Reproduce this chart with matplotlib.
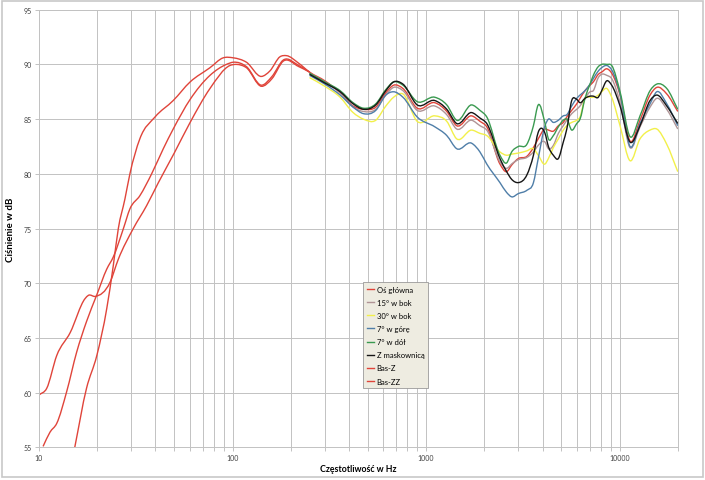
import matplotlib
matplotlib.use("Agg")
import numpy as np
import matplotlib.pyplot as plt
from matplotlib.patches import Rectangle, PathPatch
from matplotlib.path import Path
from matplotlib.lines import Line2D
from matplotlib.ticker import LogLocator, NullFormatter, FixedLocator, FixedFormatter

plt.rcParams['font.family'] = ['Lato', 'DejaVu Sans']

# --- low frequency parts (red curves) ---
os_lo_f = [15.3, 17.6, 19.9, 22.4, 24.2, 25.7, 27.8, 29.5, 33.2, 39.8, 49.4, 60.4, 76.5,
           89.5, 101, 118, 141, 156, 176, 190, 220]
os_lo_db = [55.0, 60.4, 63.4, 67.7, 71.6, 75.0, 77.7, 80.0, 83.2, 85.2, 86.7, 88.4, 89.7,
            90.6, 90.6, 90.2, 88.9, 89.4, 90.7, 90.8, 90.1]

bas_z_f = [10.5, 11.4, 12.35, 13.9, 15.65, 17.6, 19.85, 22.4, 24.2, 27.3, 29.5, 33.2, 38.2,
           43.9, 49.4, 60.4, 76.5, 93, 101, 118, 141, 160, 183, 220, 250]
bas_z_db = [55.1, 56.4, 57.2, 60.1, 63.7, 66.5, 68.9, 71.3, 72.4, 75.0, 76.8, 78.0, 80.0,
            82.3, 84.1, 86.8, 89.0, 90.0, 90.2, 89.8, 88.1, 88.9, 90.4, 89.9, 89.3]

bas_zz_f = [10.0, 10.96, 12.35, 14.5, 17.3, 18.0, 19.5, 23.3, 25.7, 30.7, 36.0, 41.4, 50.0,
            60.4, 76.5, 97, 105, 118, 141, 160, 183, 220, 250]
bas_zz_db = [59.8, 60.4, 63.4, 65.5, 68.6, 68.9, 68.8, 70.1, 72.2, 75.0, 77.1, 79.2, 81.9,
             84.7, 87.8, 89.9, 90.0, 89.7, 88.0, 88.7, 90.3, 89.8, 89.3]

# --- high frequency parts (shared grid) ---
f_hi = [250, 300, 360, 420, 475, 550, 620, 680, 760, 900, 1110, 1280, 1440, 1720, 1900, 2060,
        2410, 2610, 2770, 3000, 3320, 3590, 3800, 4120, 4290, 4550, 4830, 5120, 5340, 5660,
        6010, 6250, 6630, 7040, 7320, 7770, 8090, 8590, 9110, 10060, 11330, 12760, 14380,
        15570, 17540, 20000]
red_hi = [89.3, 88.5, 87.4, 86.2, 85.9, 86.1, 87.4, 88.1, 87.8, 86.0, 86.5, 85.7, 84.4, 85.3,
          84.8, 84.3, 80.9, 80.2, 80.8, 81.4, 81.6, 82.4, 83.2, 84.1, 84.0, 83.9, 84.4, 84.7,
          85.2, 85.8, 86.4, 86.9, 87.6, 88.1, 88.4, 89.1, 89.3, 89.6, 89.2, 87.2, 83.0, 84.9,
          87.2, 87.9, 87.3, 85.7]
deg15 = [89.2, 88.4, 87.4, 86.1, 85.7, 85.9, 87.2, 87.9, 87.6, 85.8, 86.2, 85.4, 84.1, 84.9,
         84.4, 84.0, 81.1, 80.5, 80.9, 81.3, 81.5, 82.0, 82.6, 82.9, 82.3, 82.6, 83.7, 84.4,
         84.9, 85.5, 85.9, 86.2, 86.9, 87.5, 87.6, 88.8, 89.1, 89.0, 88.7, 86.5, 82.4, 84.3,
         86.1, 86.9, 85.9, 84.1]
deg30 = [88.8, 88.0, 87.0, 85.6, 85.0, 84.9, 86.2, 87.0, 87.3, 84.8, 85.3, 84.8, 83.2, 84.0,
         83.7, 83.5, 82.0, 81.7, 81.8, 81.9, 82.1, 82.3, 81.7, 80.9, 81.4, 82.4, 83.2, 84.0,
         84.4, 84.7, 84.9, 85.2, 86.9, 87.0, 87.0, 87.2, 87.5, 87.8, 87.0, 84.4, 81.2, 83.2,
         84.0, 84.1, 82.7, 80.2]
up7 = [89.0, 88.2, 87.2, 86.1, 85.5, 85.8, 87.2, 87.5, 87.0, 85.2, 84.3, 83.5, 82.3, 82.8,
       82.0, 80.9, 79.2, 78.3, 77.9, 78.2, 78.5, 79.2, 81.4, 84.4, 85.0, 84.7, 84.9, 85.3,
       85.4, 86.2, 86.9, 87.2, 87.6, 88.2, 88.7, 89.4, 89.7, 89.9, 89.5, 87.3, 82.5, 84.6,
       86.4, 87.5, 86.4, 84.4]
down7 = [89.2, 88.4, 87.6, 86.5, 86.0, 86.4, 87.7, 88.4, 88.1, 86.6, 87.0, 86.3, 84.9, 86.3,
         85.8, 85.2, 81.7, 81.0, 82.0, 82.5, 82.7, 84.4, 86.3, 84.6, 83.2, 83.5, 84.3, 84.9,
         85.0, 84.0, 84.6, 85.0, 86.9, 88.2, 89.0, 89.8, 90.0, 90.0, 89.9, 87.5, 83.4, 85.3,
         87.6, 88.2, 87.8, 85.9]
mask = [89.1, 88.3, 87.5, 86.4, 85.9, 86.3, 87.6, 88.4, 88.2, 86.3, 86.7, 85.9, 84.6, 85.6,
        85.1, 84.6, 81.4, 80.2, 79.5, 79.2, 79.9, 81.7, 83.8, 83.7, 82.5, 81.7, 81.4, 82.9,
        84.1, 86.7, 86.8, 86.5, 86.9, 87.1, 87.1, 87.0, 87.6, 88.5, 88.1, 86.2, 82.9, 84.4,
        86.7, 87.2, 86.2, 84.6]

os_f = os_lo_f + f_hi
os_db = os_lo_db + red_hi

labels = ['Oś główna', '15° w bok', '30° w bok', '7° w górę', '7° w dół',
          'Z maskownicą', 'Bas-Z', 'Bas-ZZ']

RED = '#e0443a'
colors = [RED, '#b09496', '#f2f04a', '#4f7ea8', '#3a9a50', '#151515', RED, RED]


def smooth_line(ax, f, db, color, lw):
    # Excel-like "smoothed line": bezier segments through the points (log-x space)
    u = np.log10(f)
    v = np.asarray(db, dtype=float)
    n = len(u)
    h = np.diff(u)
    d = np.diff(v) / h
    m = np.empty(n)
    m[0], m[-1] = d[0], d[-1]
    m[1:-1] = (d[1:] * h[:-1] + d[:-1] * h[1:]) / (h[:-1] + h[1:])
    verts = [(f[0], v[0])]
    codes = [Path.MOVETO]
    for i in range(n - 1):
        c1 = (10 ** (u[i] + h[i] / 3), v[i] + m[i] * h[i] / 3)
        c2 = (10 ** (u[i + 1] - h[i] / 3), v[i + 1] - m[i + 1] * h[i] / 3)
        verts += [c1, c2, (f[i + 1], v[i + 1])]
        codes += [Path.CURVE4] * 3
    ax.add_patch(PathPatch(Path(verts, codes), fill=False, edgecolor=color, lw=lw,
                           zorder=2))


fig = plt.figure(figsize=(7.05, 4.81), dpi=100)
ax = fig.add_axes([0.0553, 0.0676, 0.9061, 0.9102])
ax.set_xscale('log')
ax.set_xlim(10, 20000)
ax.set_ylim(55, 95)

lw = 1.0
series = [(os_f, os_db), (f_hi, deg15), (f_hi, deg30), (f_hi, up7), (f_hi, down7),
          (f_hi, mask), (bas_z_f, bas_z_db), (bas_zz_f, bas_zz_db)]
for (xf, yd), c in zip(series, colors):
    smooth_line(ax, xf, yd, c, lw)

ax.xaxis.set_major_locator(FixedLocator([10, 100, 1000, 10000]))
ax.xaxis.set_major_formatter(FixedFormatter(['10', '100', '1000', '10000']))
ax.xaxis.set_minor_locator(LogLocator(base=10, subs=range(2, 10), numticks=20))
ax.xaxis.set_minor_formatter(NullFormatter())
ax.set_yticks(range(55, 96, 5))

ax.grid(True, which='both', axis='x', color='#c2c2c2', lw=0.7)
ax.grid(True, which='major', axis='y', color='#c2c2c2', lw=0.7)
ax.set_axisbelow(True)
for s in ax.spines.values():
    s.set_color('#c2c2c2')
    s.set_linewidth(0.7)

ax.tick_params(axis='both', which='both', labelsize=5, colors='#c2c2c2',
               labelcolor='#404040', length=3, width=0.7, pad=2)

ax.set_xlabel('Częstotliwość w Hz', fontsize=6.3, fontweight='bold', labelpad=2)
ax.set_ylabel('Ciśnienie w dB', fontsize=7, fontweight='bold', labelpad=6)

handles = [Line2D([], [], color=c, lw=lw) for c in colors]
leg = ax.legend(handles, labels, loc='upper left', bbox_to_anchor=(0.507, 0.378),
                fontsize=5.5, frameon=True, fancybox=False, facecolor='#eeece1',
                edgecolor='#9a9a9a', framealpha=1, handlelength=1.0, handletextpad=0.3,
                labelspacing=0.8, borderpad=0.5, borderaxespad=0)
leg.get_frame().set_linewidth(0.6)

# outer chart frame
fig.patches.append(Rectangle((0.003, 0.006), 0.994, 0.99, transform=fig.transFigure,
                             fill=False, edgecolor='#c8c8c8', lw=1.2))

fig.savefig('out.png', dpi=100)
